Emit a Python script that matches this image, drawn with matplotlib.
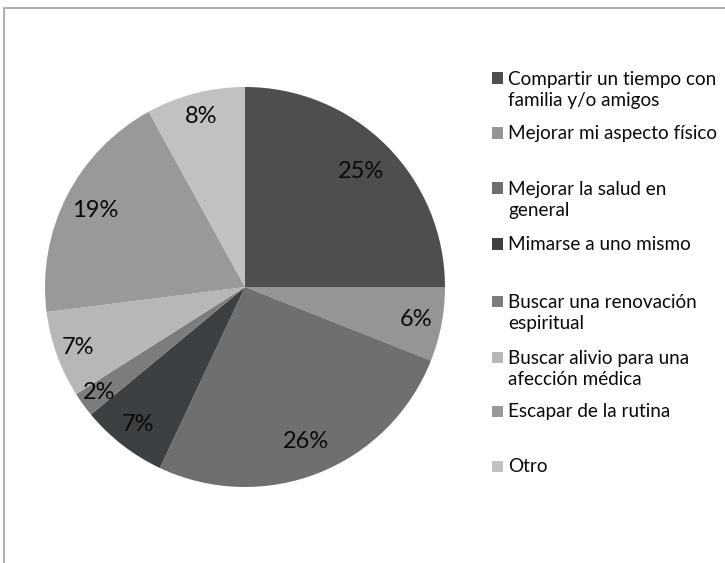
import numpy as np
import matplotlib.pyplot as plt
from matplotlib.patches import Rectangle

# data
labels = ['Compartir un tiempo con\nfamilia y/o amigos',
          'Mejorar mi aspecto físico',
          'Mejorar la salud en\ngeneral',
          'Mimarse a uno mismo',
          'Buscar una renovación\nespiritual',
          'Buscar alivio para una\nafección médica',
          'Escapar de la rutina',
          'Otro']
values = [25, 6, 26, 7, 2, 7, 19, 8]
colors = ['#4d4e50', '#939597', '#6d6f71', '#3d4043',
          '#7a7c7e', '#b5b7b9', '#97999b', '#bfc1c3']

# layout: label distance from centre (fraction of radius), legend entry centres (px from top)
pct_dist = [0.82, 0.87, 0.83, 0.87, 0.90, 0.89, 0.84, 0.88]
legend_y = [90, 133, 200, 244, 313, 369, 411, 466]

plt.rcParams['font.family'] = ['Lato', 'DejaVu Sans']

W, H = 725, 563
fig = plt.figure(figsize=(W / 100, H / 100), dpi=100)

# outer chart border (only top/left visible in the crop)
fig.patches.append(Rectangle((4 / W, -0.1), 1.2, 1 - 8 / H + 0.1, transform=fig.transFigure,
                             fill=False, edgecolor='#a0a0a0', linewidth=1.2))

ax = fig.add_axes([45 / W, (H - 487) / H, 400 / W, 400 / H])
wedges, _ = ax.pie(values, colors=colors, startangle=90, counterclock=False,
                   wedgeprops=dict(linewidth=0))
ax.set_xlim(-1, 1)
ax.set_ylim(-1, 1)
ax.set_aspect('equal')

for w, v, d in zip(wedges, values, pct_dist):
    ang = np.deg2rad((w.theta1 + w.theta2) / 2)
    ax.text(d * np.cos(ang), d * np.sin(ang), f'{v}%', ha='center', va='center',
            fontsize=17, color='#0a0a0a')

for lab, c, yc in zip(labels, colors, legend_y):
    nl = lab.count('\n') + 1
    first = yc - (nl - 1) * 12
    fig.patches.append(Rectangle((492 / W, (H - first - 5.5) / H), 11 / W, 11 / H,
                                 transform=fig.transFigure, facecolor=c, edgecolor='none'))
    fig.text(508 / W, (H - yc) / H, lab, ha='left', va='center', fontsize=13.6,
             linespacing=1.32, color='#0a0a0a')

fig.savefig('out.png', dpi=100)
